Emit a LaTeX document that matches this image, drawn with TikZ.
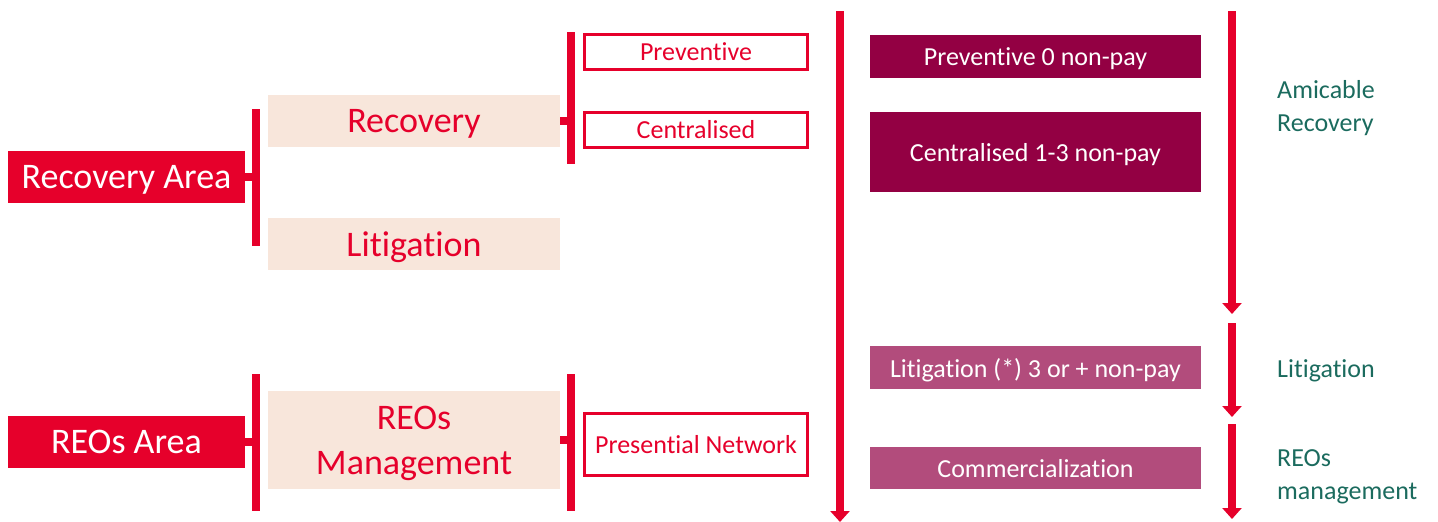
\documentclass[tikz,border=0pt]{standalone}
\usepackage{fontspec}
\setmainfont{Carlito}[RawFeature={-liga,-clig,-dlig,-calt}]
\usepackage{xcolor}
\usetikzlibrary{arrows.meta, positioning}
\definecolor{areared}{HTML}{E6002B}
\definecolor{unitbeige}{HTML}{F8E6DB}
\definecolor{stagedark}{HTML}{930043}
\definecolor{stagelight}{HTML}{B24C7C}
\definecolor{phaseteal}{HTML}{1B6B5E}
\tikzstyle{area} = [rectangle, minimum width=237pt, minimum height=52pt, inner sep=0pt, text depth=0pt, text centered, fill=areared, text=white, font=\fontsize{36}{45}\selectfont]
\tikzstyle{unit} = [rectangle, minimum width=292pt, minimum height=52pt, inner sep=0pt, text depth=0pt, text centered, align=center, fill=unitbeige, text=areared, font=\fontsize{36}{45}\selectfont]
\tikzstyle{channel} = [rectangle, minimum width=223pt, minimum height=35pt, inner sep=0pt, text depth=-2pt, text centered, draw=areared, line width=3pt, text=areared, font=\fontsize{26}{31}\selectfont]
\tikzstyle{stage} = [rectangle, minimum width=331pt, minimum height=43pt, inner sep=0pt, text depth=0pt, text centered, text=white, font=\fontsize{26}{31}\selectfont]
\tikzstyle{phase} = [inner sep=0pt, anchor=west, align=left, text=phaseteal, font=\fontsize{26}{33}\selectfont]
\tikzstyle{bar} = [draw=areared, line width=8pt]
\tikzstyle{flow} = [draw=areared, line width=8pt, -{Triangle[width=19pt,length=11pt]}]

\begin{document}
\begin{tikzpicture}[x=1pt, y=-1pt]
\useasboundingbox (0,0) rectangle (1438,522);

% areas and their units
\node (recarea) [area] at (126.5,177) {Recovery Area};
\node (reoarea) [area] at (126.5,442) {REOs Area};
\node (recovery) [unit] at (414,121) {Recovery};
\node (litigation) [unit] at (414,244) {Litigation};
\node (reomgmt) [unit, minimum height=98pt] at (414,440) {REOs\\Management};

% channels
\node (preventive) [channel] at (696,52) {Preventive};
\node (centralised) [channel] at (696,129.5) {Centralised};
\node (presential) [channel, minimum height=62pt] at (696,444.5) {Presential Network};

% brackets
\coordinate (recbartop) at (255.5,109);
\coordinate (recbarbot) at (255.5,246);
\coordinate (reobartop) at (255.5,374);
\coordinate (reobarbot) at (255.5,511);
\coordinate (chanbartop) at (571,32);
\coordinate (chanbarbot) at (571,164);
\coordinate (presbartop) at (571,374);
\coordinate (presbarbot) at (571,511);

\draw [bar] (recbartop) -- (recbarbot);
\draw [bar] (reobartop) -- (reobarbot);
\draw [bar] (chanbartop) -- (chanbarbot);
\draw [bar] (presbartop) -- (presbarbot);
\draw [bar] (recarea.east) -- (recarea.east -| recbartop);
\draw [bar] (reoarea.east) -- (reoarea.east -| reobartop);
\draw [bar] (recovery.east) -- (recovery.east -| chanbartop);
\draw [bar] (reomgmt.east) -- (reomgmt.east -| presbartop);

% stages by non-payment
\node (prev0) [stage, fill=stagedark] at (1035.5,56.5) {Preventive 0 non-pay};
\node (cent13) [stage, fill=stagedark, minimum height=80pt] at (1035.5,152) {Centralised 1-3 non-pay};
\node (lit3) [stage, fill=stagelight] at (1035.5,367.5) {Litigation (*) 3 or + non-pay};
\node (comm) [stage, fill=stagelight, minimum height=42pt] at (1035.5,468) {Commercialization};

% phases
\node (amicable) [phase] at (1277,108) {Amicable\\Recovery};
\node (litphase) [phase] at (1277,371) {Litigation};
\node (reophase) [phase] at (1277,477) {REOs\\management};

% timeline arrows
\coordinate (mainstart) at (840,11);
\coordinate (mainend) at (840,522);
\coordinate (amstart) at (1232,11);
\coordinate (amend) at (1232,314);
\coordinate (litstart) at (1232,323);
\coordinate (litend) at (1232,417);
\coordinate (reostart) at (1232,424);
\coordinate (reoend) at (1232,519);

\draw [flow] (mainstart) -- (mainend);
\draw [flow] (amstart) -- (amend);
\draw [flow] (litstart) -- (litend);
\draw [flow] (reostart) -- (reoend);

\end{tikzpicture}
\end{document}
